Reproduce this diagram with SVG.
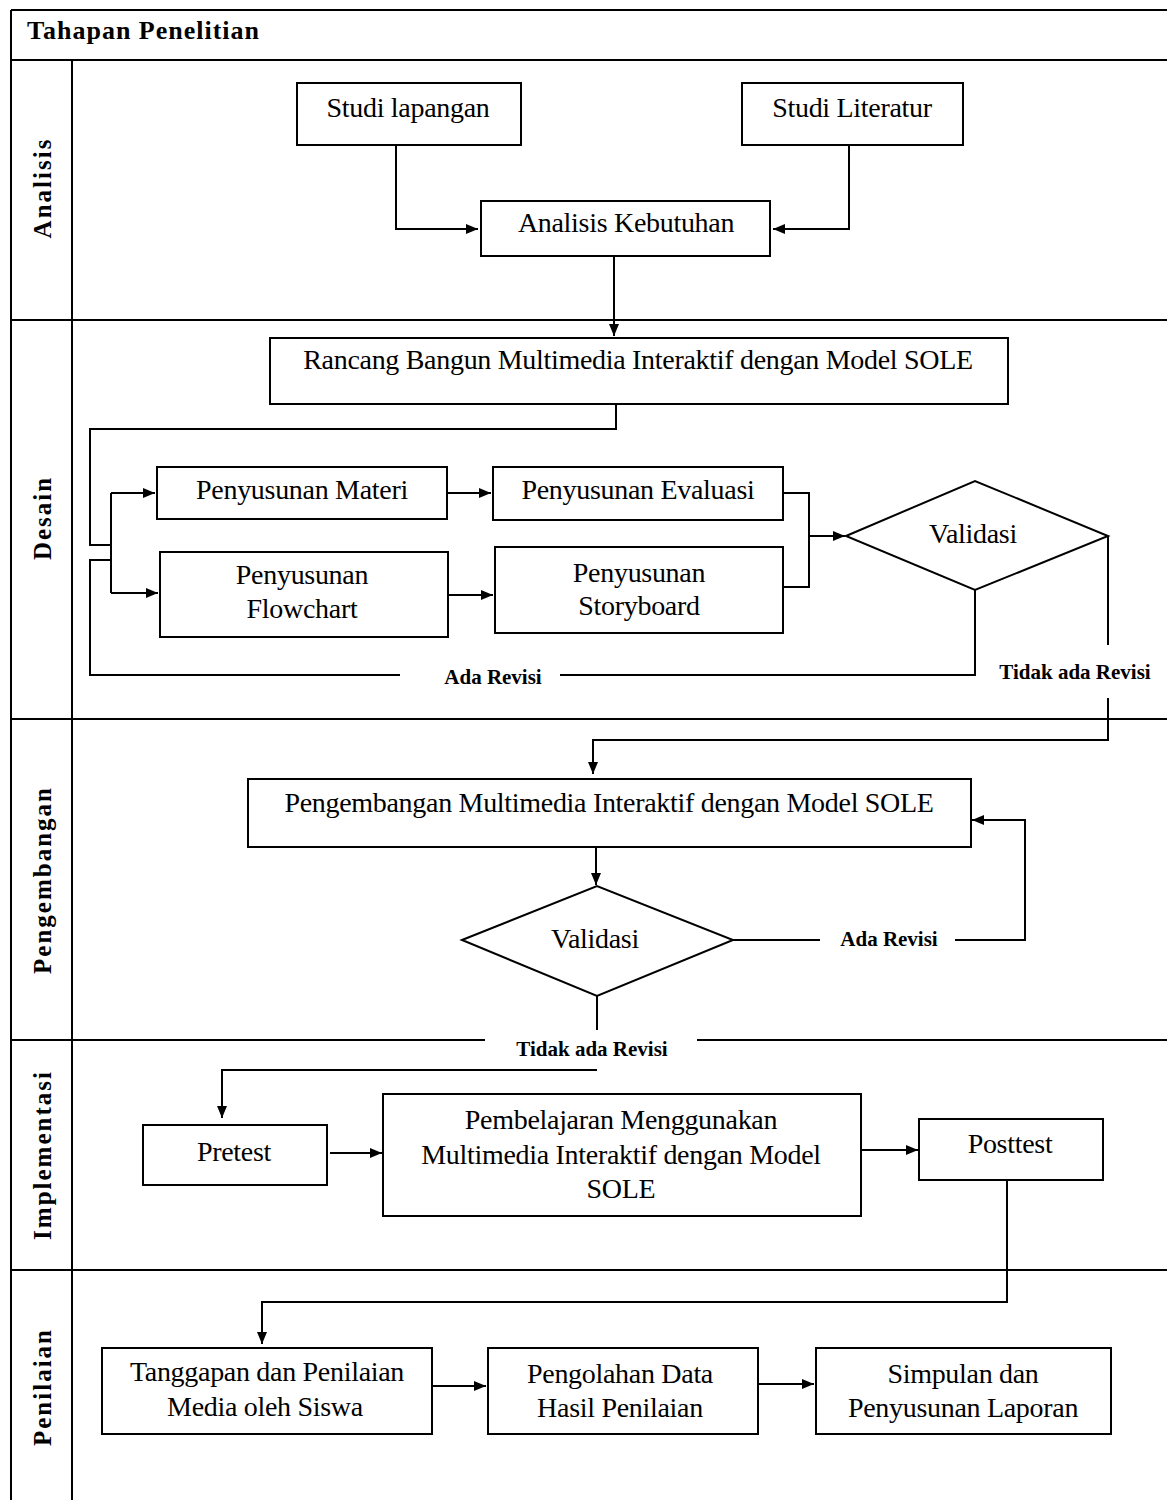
<svg xmlns="http://www.w3.org/2000/svg" width="1167" height="1500" viewBox="0 0 1167 1500">
<style>
.frame{stroke:#000;stroke-width:2;fill:none}
.box{fill:#fff;stroke:#000;stroke-width:2}
.ln{fill:none;stroke:#000;stroke-width:2}
.t{font-family:"Liberation Serif","Times New Roman",serif;font-size:28px;fill:#000;text-anchor:middle;letter-spacing:-0.3px}
.lbl{font-family:"Liberation Serif","Times New Roman",serif;font-size:21px;font-weight:bold;fill:#000;text-anchor:middle}
.lane{font-family:"Liberation Serif","Times New Roman",serif;font-size:25px;font-weight:bold;fill:#000;text-anchor:middle;letter-spacing:2px}
.title{font-family:"Liberation Serif","Times New Roman",serif;font-size:26px;font-weight:bold;fill:#000;letter-spacing:1px}
</style>
<defs>
<marker id="ah" markerWidth="12" markerHeight="10" refX="12" refY="5" orient="auto" markerUnits="userSpaceOnUse">
<path d="M0,0 L12,5 L0,10 Z" fill="#000"/>
</marker>
</defs>
<rect width="1167" height="1500" fill="#fff"/>
<g id="frame">
<line class="frame" x1="11" y1="10" x2="1167" y2="10"/>
<line class="frame" x1="11" y1="10" x2="11" y2="1500"/>
<line class="frame" x1="72" y1="60" x2="72" y2="1500"/>
<line class="frame" x1="11" y1="60" x2="1167" y2="60"/>
<line class="frame" x1="11" y1="320" x2="1167" y2="320"/>
<line class="frame" x1="11" y1="719" x2="1167" y2="719"/>
<line class="frame" x1="11" y1="1040" x2="485" y2="1040"/>
<line class="frame" x1="697" y1="1040" x2="1167" y2="1040"/>
<line class="frame" x1="11" y1="1270" x2="1167" y2="1270"/>
<text class="title" x="27" y="39">Tahapan Penelitian</text>
<text class="lane" transform="translate(51,188) rotate(-90)">Analisis</text>
<text class="lane" transform="translate(51,518) rotate(-90)">Desain</text>
<text class="lane" transform="translate(51,880) rotate(-90)">Pengembangan</text>
<text class="lane" transform="translate(51,1155) rotate(-90)">Implementasi</text>
<text class="lane" transform="translate(51,1387) rotate(-90)">Penilaian</text>
</g>
<g id="connectors">
<path class="ln" d="M396,145 V229 H478" marker-end="url(#ah)"/>
<path class="ln" d="M849,145 V229 H773" marker-end="url(#ah)"/>
<path class="ln" d="M614,256 V336" marker-end="url(#ah)"/>
<path class="ln" d="M616,404 V429 H90 V545 H111"/>
<path class="ln" d="M111,493 V593"/>
<path class="ln" d="M111,493 H155" marker-end="url(#ah)"/>
<path class="ln" d="M111,593 H158" marker-end="url(#ah)"/>
<path class="ln" d="M448,493 H491" marker-end="url(#ah)"/>
<path class="ln" d="M448,595 H493" marker-end="url(#ah)"/>
<path class="ln" d="M783,493 H809 V587 H783"/>
<path class="ln" d="M809,536 H845" marker-end="url(#ah)"/>
<path class="ln" d="M975,590 V675 H560"/>
<path class="ln" d="M400,675 H90 V560 H111"/>
<path class="ln" d="M1108,536 V645"/>
<path class="ln" d="M1108,698 V740 H593 V774" marker-end="url(#ah)"/>
<path class="ln" d="M596,847 V885" marker-end="url(#ah)"/>
<path class="ln" d="M733,940 H820"/>
<path class="ln" d="M955,940 H1025 V820 H972" marker-end="url(#ah)"/>
<path class="ln" d="M597,996 V1030"/>
<path class="ln" d="M597,1070 H222 V1118" marker-end="url(#ah)"/>
<path class="ln" d="M330,1153 H382" marker-end="url(#ah)"/>
<path class="ln" d="M861,1150 H918" marker-end="url(#ah)"/>
<path class="ln" d="M1007,1180 V1302 H262 V1344" marker-end="url(#ah)"/>
<path class="ln" d="M432,1386 H486" marker-end="url(#ah)"/>
<path class="ln" d="M758,1384 H814" marker-end="url(#ah)"/>
<text class="lbl" x="493" y="684">Ada Revisi</text>
<text class="lbl" x="1075" y="679">Tidak ada Revisi</text>
<text class="lbl" x="889" y="946">Ada Revisi</text>
<text class="lbl" x="592" y="1056">Tidak ada Revisi</text>
</g>
<g id="studi-lapangan"><rect class="box" x="297" y="83" width="224" height="62"/><text class="t" x="408" y="117">Studi lapangan</text></g>
<g id="studi-literatur"><rect class="box" x="742" y="83" width="221" height="62"/><text class="t" x="852" y="117">Studi Literatur</text></g>
<g id="analisis-kebutuhan"><rect class="box" x="481" y="201" width="289" height="55"/><text class="t" x="626" y="232">Analisis  Kebutuhan</text></g>
<g id="rancang-bangun"><rect class="box" x="270" y="338" width="738" height="66"/><text class="t" x="638" y="369">Rancang Bangun Multimedia  Interaktif dengan Model SOLE</text></g>
<g id="penyusunan-materi"><rect class="box" x="157" y="467" width="290" height="52"/><text class="t" x="302" y="499">Penyusunan Materi</text></g>
<g id="penyusunan-flowchart"><rect class="box" x="160" y="552" width="288" height="85"/><text class="t" x="302" y="584">Penyusunan</text><text class="t" x="302" y="618">Flowchart</text></g>
<g id="penyusunan-evaluasi"><rect class="box" x="493" y="467" width="290" height="53"/><text class="t" x="638" y="499">Penyusunan Evaluasi</text></g>
<g id="penyusunan-storyboard"><rect class="box" x="495" y="547" width="288" height="86"/><text class="t" x="639" y="582">Penyusunan</text><text class="t" x="639" y="615">Storyboard</text></g>
<g id="validasi-1"><polygon class="box" points="846,536 975,481 1108,536 975,590"/><text class="t" x="973" y="543">Validasi</text></g>
<g id="pengembangan"><rect class="box" x="248" y="779" width="723" height="68"/><text class="t" x="609" y="812">Pengembangan Multimedia  Interaktif dengan Model SOLE</text></g>
<g id="validasi-2"><polygon class="box" points="462,940 597,886 733,940 597,996"/><text class="t" x="595" y="948">Validasi</text></g>
<g id="pretest"><rect class="box" x="143" y="1125" width="184" height="60"/><text class="t" x="234" y="1161">Pretest</text></g>
<g id="pembelajaran"><rect class="box" x="383" y="1094" width="478" height="122"/><text class="t" x="621" y="1129">Pembelajaran Menggunakan</text><text class="t" x="621" y="1164">Multimedia  Interaktif dengan Model</text><text class="t" x="621" y="1198">SOLE</text></g>
<g id="posttest"><rect class="box" x="919" y="1119" width="184" height="61"/><text class="t" x="1010" y="1153">Posttest</text></g>
<g id="tanggapan"><rect class="box" x="102" y="1348" width="330" height="86"/><text class="t" x="267" y="1381">Tanggapan dan Penilaian</text><text class="t" x="265" y="1416">Media oleh Siswa</text></g>
<g id="pengolahan"><rect class="box" x="488" y="1348" width="270" height="86"/><text class="t" x="620" y="1383">Pengolahan Data</text><text class="t" x="620" y="1417">Hasil Penilaian</text></g>
<g id="simpulan"><rect class="box" x="816" y="1348" width="295" height="86"/><text class="t" x="963" y="1383">Simpulan  dan</text><text class="t" x="963" y="1417">Penyusunan Laporan</text></g>
</svg>
